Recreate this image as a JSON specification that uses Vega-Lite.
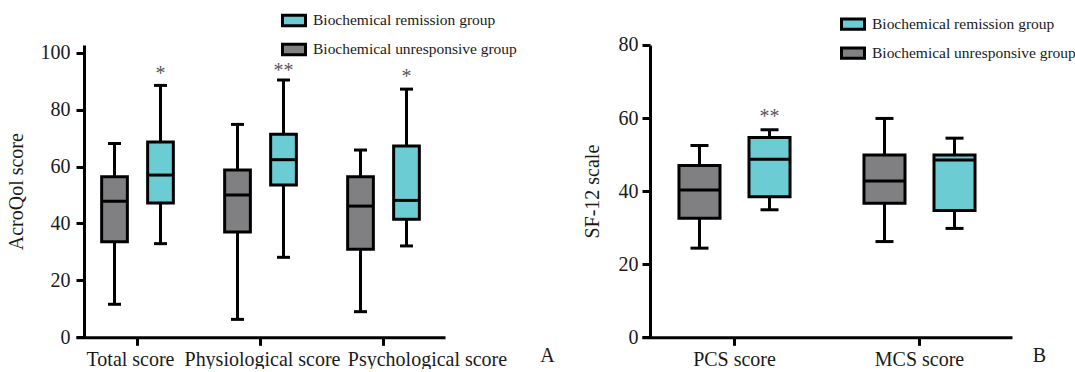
{
  "$schema": "https://vega.github.io/schema/vega-lite/v6.json",
  "padding": {"left": 6, "top": 7, "right": 0, "bottom": 0},
  "spacing": 28,
  "config": {
    "view": {"stroke": null},
    "font": "Liberation Serif",
    "axis": {
      "labelFont": "Liberation Serif", "labelFontSize": 20, "labelColor": "#1a1a1a",
      "titleFont": "Liberation Serif", "titleFontSize": 20, "titleFontWeight": "normal", "titleColor": "#1a1a1a",
      "domainColor": "black", "domainWidth": 3, "tickColor": "black", "tickWidth": 3, "tickSize": 8,
      "grid": false
    },
    "legend": {
      "labelFont": "Liberation Serif", "labelFontSize": 15.5, "labelColor": "#1a1a1a", "labelLimit": 0,
      "symbolType": "M-1,-0.45L1,-0.45L1,0.45L-1,0.45Z", "symbolSize": 529,
      "symbolStrokeWidth": 3, "symbolStrokeColor": "black", "padding": 0, "rowPadding": 4, "labelOffset": 6
    }
  },
  "resolve": {"scale": {"color": "independent", "xOffset": "independent"}, "legend": {"color": "independent"}},
  "hconcat": [
    {
      "width": 369,
      "height": 292.3,
      "data": {"values": [
        {"cat": "Total score", "group": "Biochemical unresponsive group", "min": 11.6, "q1": 33.6, "median": 47.8, "q3": 56.4, "max": 68.1},
        {"cat": "Total score", "group": "Biochemical remission group", "min": 32.9, "q1": 47.2, "median": 57.0, "q3": 68.6, "max": 88.5},
        {"cat": "Physiological score", "group": "Biochemical unresponsive group", "min": 6.3, "q1": 37.0, "median": 50.0, "q3": 58.8, "max": 74.8},
        {"cat": "Physiological score", "group": "Biochemical remission group", "min": 28.1, "q1": 53.5, "median": 62.4, "q3": 71.3, "max": 90.4},
        {"cat": "Psychological score", "group": "Biochemical unresponsive group", "min": 9.0, "q1": 30.9, "median": 46.1, "q3": 56.4, "max": 65.8},
        {"cat": "Psychological score", "group": "Biochemical remission group", "min": 32.1, "q1": 41.5, "median": 48.1, "q3": 67.2, "max": 87.2}
      ]},
      "encoding": {
        "x": {"field": "cat", "type": "nominal", "sort": ["Total score", "Physiological score", "Psychological score"],
          "scale": {"paddingInner": 0, "paddingOuter": 0},
          "axis": {"title": "A", "titleAngle": 0, "titleX": 471, "titleY": 24.7, "titleAlign": "center", "titleBaseline": "alphabetic",
            "labelAngle": 0, "labelPadding": 4, "labelOverlap": false, "labelFontSize": 20,
            "labelOffset": {"condition": [
              {"test": "datum.value == 'Psychological score'", "value": 44},
              {"test": "datum.value == 'Total score'", "value": -7}
            ], "value": 2}}},
        "xOffset": {"field": "group", "type": "nominal", "sort": ["Biochemical unresponsive group", "Biochemical remission group"],
          "scale": {"paddingInner": 0.441, "paddingOuter": 0.558}}
      },
      "layer": [
        {"mark": {"type": "rule", "color": "black", "strokeWidth": 3},
          "encoding": {"y": {"field": "min", "type": "quantitative", "scale": {"domain": [0, 102.7], "nice": false},
            "axis": {"title": "AcroQol score", "values": [0, 20, 40, 60, 80, 100], "offset": -8, "labelPadding": 6, "titlePadding": 14}},
            "y2": {"field": "max"}}},
        {"mark": {"type": "bar", "stroke": "black", "strokeWidth": 3, "opacity": 1},
          "encoding": {"y": {"field": "q1", "type": "quantitative"}, "y2": {"field": "q3"},
            "color": {"field": "group", "type": "nominal",
              "scale": {"domain": ["Biochemical remission group", "Biochemical unresponsive group"], "range": ["#6cccd3", "#808083"]},
              "legend": {"title": null, "orient": "none", "legendX": 205, "legendY": -37.5,
                "encode": {"symbols": {"update": {"stroke": {"value": "black"}, "strokeWidth": {"value": 3}}}}}}}},
        {"mark": {"type": "tick", "orient": "horizontal", "color": "black", "size": 25.7, "thickness": 3, "opacity": 1},
          "encoding": {"y": {"field": "median", "type": "quantitative"}}},
        {"mark": {"type": "tick", "orient": "horizontal", "color": "black", "size": 13, "thickness": 3, "opacity": 1},
          "encoding": {"y": {"field": "min", "type": "quantitative"}}},
        {"mark": {"type": "tick", "orient": "horizontal", "color": "black", "size": 13, "thickness": 3, "opacity": 1},
          "encoding": {"y": {"field": "max", "type": "quantitative"}}},
        {"data": {"values": [
            {"cat": "Total score", "group": "Biochemical remission group", "label": "*", "pos": 90.4},
            {"cat": "Physiological score", "group": "Biochemical remission group", "label": "**", "pos": 91.4},
            {"cat": "Psychological score", "group": "Biochemical remission group", "label": "*", "pos": 89.5}
          ]},
          "mark": {"type": "text", "font": "Liberation Serif", "fontSize": 20, "color": "#555555", "baseline": "alphabetic", "align": "center"},
          "encoding": {"y": {"field": "pos", "type": "quantitative"}, "text": {"field": "label"}}}
      ]
    },
    {
      "width": 370,
      "height": 292.3,
      "data": {"values": [
        {"cat": "PCS score", "group": "Biochemical unresponsive group", "min": 24.4, "q1": 32.6, "median": 40.3, "q3": 47.0, "max": 52.5},
        {"cat": "PCS score", "group": "Biochemical remission group", "min": 34.9, "q1": 38.5, "median": 48.7, "q3": 54.7, "max": 56.8},
        {"cat": "MCS score", "group": "Biochemical unresponsive group", "min": 26.2, "q1": 36.7, "median": 42.8, "q3": 49.9, "max": 59.9},
        {"cat": "MCS score", "group": "Biochemical remission group", "min": 29.8, "q1": 34.7, "median": 48.5, "q3": 49.9, "max": 54.5}
      ]},
      "encoding": {
        "x": {"field": "cat", "type": "nominal", "sort": ["PCS score", "MCS score"],
          "scale": {"paddingInner": 0, "paddingOuter": 0},
          "axis": {"title": "B", "titleAngle": 0, "titleX": 397, "titleY": 24.7, "titleAlign": "center", "titleBaseline": "alphabetic",
            "labelAngle": 0, "labelPadding": 4}},
        "xOffset": {"field": "group", "type": "nominal", "sort": ["Biochemical unresponsive group", "Biochemical remission group"],
          "scale": {"paddingInner": 0.414, "paddingOuter": 0.528}}
      },
      "layer": [
        {"mark": {"type": "rule", "color": "black", "strokeWidth": 3},
          "encoding": {"y": {"field": "min", "type": "quantitative", "scale": {"domain": [0, 80], "nice": false},
            "axis": {"title": "SF-12 scale", "values": [0, 20, 40, 60, 80], "offset": -8, "labelPadding": 4, "titlePadding": 15}},
            "y2": {"field": "max"}}},
        {"mark": {"type": "bar", "stroke": "black", "strokeWidth": 3, "opacity": 1},
          "encoding": {"y": {"field": "q1", "type": "quantitative"}, "y2": {"field": "q3"},
            "color": {"field": "group", "type": "nominal",
              "scale": {"domain": ["Biochemical remission group", "Biochemical unresponsive group"], "range": ["#6cccd3", "#808083"]},
              "legend": {"title": null, "orient": "none", "legendX": 198, "legendY": -33.8,
                "encode": {"symbols": {"update": {"stroke": {"value": "black"}, "strokeWidth": {"value": 3}}}}}}}},
        {"mark": {"type": "tick", "orient": "horizontal", "color": "black", "size": 41, "thickness": 3, "opacity": 1},
          "encoding": {"y": {"field": "median", "type": "quantitative"}}},
        {"mark": {"type": "tick", "orient": "horizontal", "color": "black", "size": 18, "thickness": 3, "opacity": 1},
          "encoding": {"y": {"field": "min", "type": "quantitative"}}},
        {"mark": {"type": "tick", "orient": "horizontal", "color": "black", "size": 18, "thickness": 3, "opacity": 1},
          "encoding": {"y": {"field": "max", "type": "quantitative"}}},
        {"data": {"values": [
            {"cat": "PCS score", "group": "Biochemical remission group", "label": "**", "pos": 58.7}
          ]},
          "mark": {"type": "text", "font": "Liberation Serif", "fontSize": 20, "color": "#555555", "baseline": "alphabetic", "align": "center"},
          "encoding": {"y": {"field": "pos", "type": "quantitative"}, "text": {"field": "label"}}}
      ]
    }
  ]
}
